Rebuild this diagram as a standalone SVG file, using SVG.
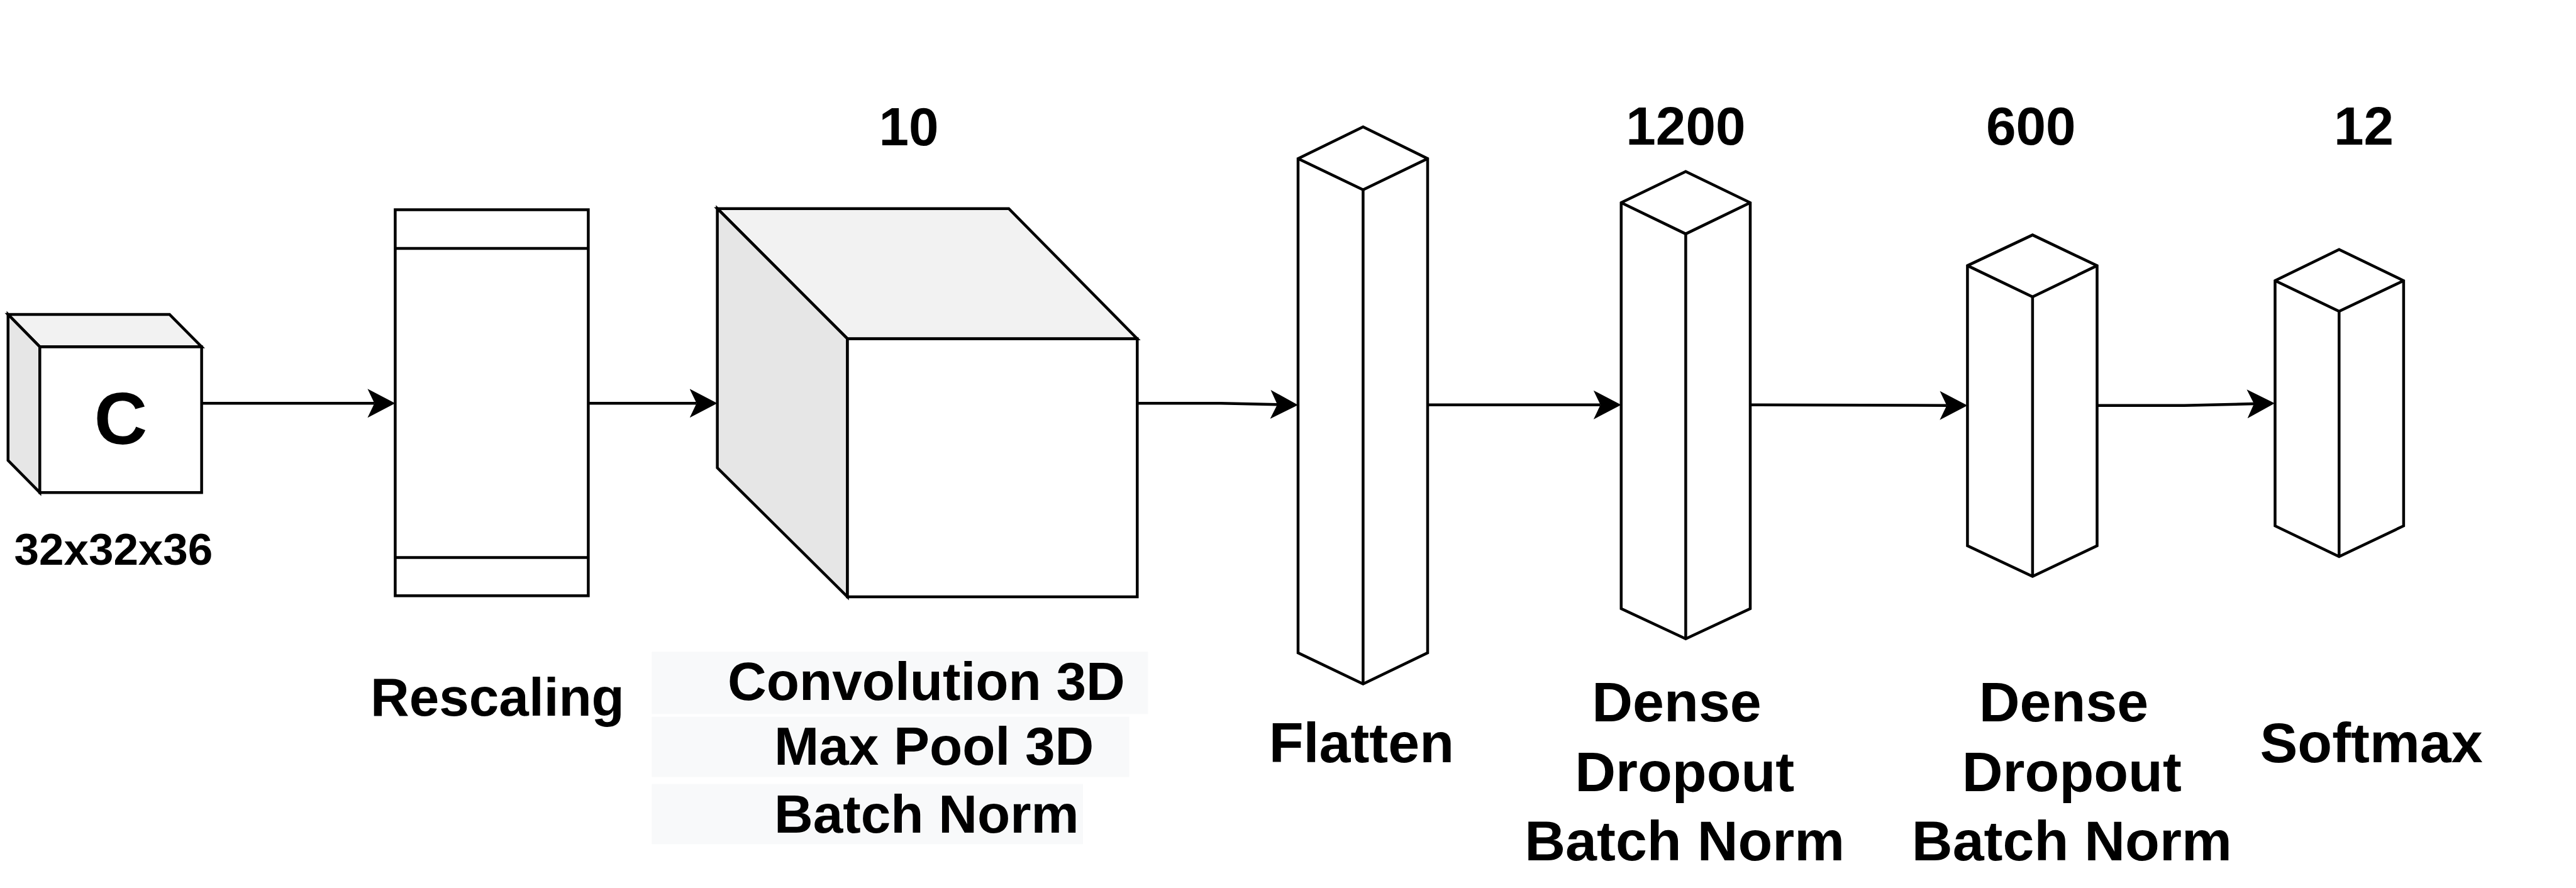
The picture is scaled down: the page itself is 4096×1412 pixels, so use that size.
<svg xmlns="http://www.w3.org/2000/svg" width="4096" height="1412" viewBox="0 0 4096 1412">
<style>
.s{stroke:#000;stroke-width:4.5;fill:#fff}
.top{stroke:#000;stroke-width:4.5;fill:#f2f2f2}
.side{stroke:#000;stroke-width:4.5;fill:#e6e6e6}
.ln{stroke:#000;stroke-width:4.5;fill:none}
.t{font-family:"Liberation Sans",Arial,sans-serif;font-weight:bold;fill:#000}
.n{font-size:85.5px;text-anchor:middle}
.l{font-size:89.8px;text-anchor:middle}
.bg{fill:#f8f9fa}
</style>
<defs>
<marker id="arr" markerUnits="userSpaceOnUse" markerWidth="50" markerHeight="50" viewBox="0 -25 50 50" refX="11" refY="0" orient="auto">
<path d="M0,-23 L44,0 L0,23 L11,0 Z" fill="#000"/>
</marker>
</defs>
<rect width="4096" height="1412" fill="#fff"/>

<g id="connectors">
<path class="ln" d="M320.6,641.3 L595.4,641.3" marker-end="url(#arr)"/>
<path class="ln" d="M935.4,641.3 L1107.6,641.3" marker-end="url(#arr)"/>
<path class="ln" d="M1808.3,641.3 L1941,641.3 L2031,643.2" marker-end="url(#arr)"/>
<path class="ln" d="M2270,643.8 L2544.8,643.8" marker-end="url(#arr)"/>
<path class="ln" d="M2783,643.8 L3095.4,644.7" marker-end="url(#arr)"/>
<path class="ln" d="M3334.5,644.7 L3473,644.7 L3584,642" marker-end="url(#arr)"/>
</g>

<g id="input">
<polygon class="top" points="12.8,500 269.6,500 320.6,551.5 63.3,551.5"/>
<polygon class="side" points="12.8,500 63.3,551.5 63.3,783.2 12.8,732"/>
<rect class="s" x="63.3" y="551.5" width="257.3" height="231.7"/>
<text class="t" x="192" y="706" font-size="117" text-anchor="middle">C</text>
<text class="t" x="180.4" y="897.8" font-size="71" text-anchor="middle">32x32x36</text>
</g>

<g id="rescaling">
<rect class="s" x="628.4" y="333.5" width="307" height="613.8"/>
<line class="ln" x1="628.4" y1="395" x2="935.4" y2="395"/>
<line class="ln" x1="628.4" y1="886.6" x2="935.4" y2="886.6"/>
<text class="t n" x="790.9" y="1138">Rescaling</text>
</g>

<g id="conv">
<polygon class="top" points="1140.6,331.7 1604,331.7 1808.3,538.7 1347.5,538.7"/>
<polygon class="side" points="1140.6,331.7 1347.5,538.7 1347.5,949 1140.6,743.9"/>
<rect class="s" x="1347.5" y="538.7" width="460.8" height="410.3"/>
<text class="t n" x="1445" y="230.9">10</text>
<rect class="bg" x="1036.3" y="1036.3" width="789.1" height="99.1"/>
<rect class="bg" x="1036.3" y="1139.7" width="759.2" height="95.8"/>
<rect class="bg" x="1036.3" y="1246.6" width="685.7" height="95.8"/>
<text class="t" x="1157" y="1113.2" font-size="85.5">Convolution 3D</text>
<text class="t" x="1231" y="1215.8" font-size="85.5">Max Pool 3D</text>
<text class="t" x="1231" y="1323.5" font-size="85.5">Batch Norm</text>
</g>

<g id="flatten">
<polygon class="s" points="2064,252.2 2167.4,201.8 2270,252.2 2270,1038 2167.4,1087.6 2064,1038"/>
<polyline class="ln" points="2064,252.2 2167.4,301.8 2270,252.2"/>
<line class="ln" x1="2167.4" y1="301.8" x2="2167.4" y2="1087.6"/>
<text class="t l" x="2164.9" y="1211.5">Flatten</text>
</g>

<g id="dense1">
<polygon class="s" points="2577.8,322.3 2680.4,272.7 2783,322.3 2783,967.9 2680.4,1015.7 2577.8,967.9"/>
<polyline class="ln" points="2577.8,322.3 2680.4,371.9 2783,322.3"/>
<line class="ln" x1="2680.4" y1="371.9" x2="2680.4" y2="1015.7"/>
<text class="t n" x="2680.4" y="230">1200</text>
<text class="t l" x="2666" y="1147">Dense</text>
<text class="t l" x="2678.7" y="1258">Dropout</text>
<text class="t l" x="2678.7" y="1368">Batch Norm</text>
</g>

<g id="dense2">
<polygon class="s" points="3128.4,422.4 3231.9,373.6 3334.5,422.4 3334.5,867.8 3231.9,916.6 3128.4,867.8"/>
<polyline class="ln" points="3128.4,422.4 3231.9,472 3334.5,422.4"/>
<line class="ln" x1="3231.9" y1="472" x2="3231.9" y2="916.6"/>
<text class="t n" x="3229.3" y="230">600</text>
<text class="t l" x="3281.5" y="1147">Dense</text>
<text class="t l" x="3294.3" y="1258">Dropout</text>
<text class="t l" x="3294.3" y="1368">Batch Norm</text>
</g>

<g id="softmax">
<polygon class="s" points="3617.5,446.3 3719.3,396.7 3821.9,446.3 3821.9,836.2 3719.3,885 3617.5,836.2"/>
<polyline class="ln" points="3617.5,446.3 3719.3,495 3821.9,446.3"/>
<line class="ln" x1="3719.3" y1="495" x2="3719.3" y2="885"/>
<text class="t n" x="3758.6" y="230">12</text>
<text class="t l" x="3770.6" y="1211.5">Softmax</text>
</g>
</svg>
